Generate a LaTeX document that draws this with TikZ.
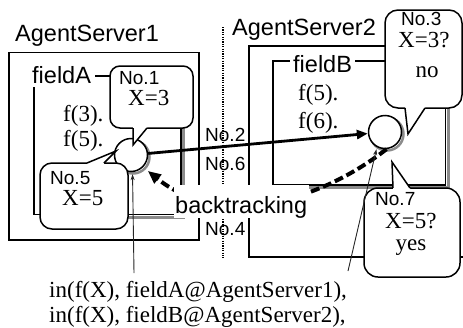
\documentclass[tikz,border=0pt]{standalone}
\usepackage{fontspec}
\setmainfont{Liberation Serif}
\setsansfont{Liberation Sans}
\usetikzlibrary{arrows.meta}
\tikzset{
  box/.style={line width=1.6pt},
  shadowline/.style={line width=3pt, black!45},
  bubble/.style={draw, fill=white, line width=1.5pt},
  tailline/.style={line width=1.5pt, line join=miter},
  agent/.style={circle, draw, fill=white, line width=1.5pt, minimum size=33pt, inner sep=0pt},
  sanslbl/.style={font=\sffamily\fontsize{23.5}{28}\selectfont, inner sep=0pt, anchor=base west},
  nolbl/.style={font=\sffamily\fontsize{19}{22}\selectfont, inner sep=0pt, anchor=base west},
  serlbl/.style={font=\fontsize{23}{27}\selectfont, inner sep=0pt, anchor=base west},
  divider/.style={line width=1.3pt, dash pattern=on 1.2pt off 1.2pt},
  mainarrow/.style={line width=2.8pt, -{Triangle[length=11pt,width=9pt]}},
  backarrow/.style={line width=4pt, dash pattern=on 9pt off 4pt, -{Triangle[length=13pt,width=11pt]}, shorten >=6pt},
  thinarrow/.style={line width=0.9pt, black!85, -{Stealth[length=6pt,width=4pt]}, shorten >=2pt},
}
\begin{document}
\begin{tikzpicture}[x=1pt,y=-1pt]
\useasboundingbox (0,0) rectangle (463,327);

% servers
\draw[box] (9,52.5) rectangle (199,240);
\draw[box] (463,46) -- (249,46) -- (249,257) -- (463,257);
\node[sanslbl] (as1) at (15,41) {AgentServer1};
\node[sanslbl] (as2) at (232,35) {AgentServer2};

% fields
\draw[shadowline] (183.5,80) -- (183.5,217.5) -- (128,217.5);
\draw[box] (34,76) rectangle (181,214.5);
\draw[shadowline] (448.5,65) -- (448.5,187.5) -- (300,187.5);
\draw[box] (273,61) rectangle (445.5,185);

\node[serlbl] (fa1) at (63,121) {f(3).};
\node[serlbl] (fa2) at (63,146) {f(5).};
\node[serlbl] (fb1) at (298,100) {f(5).};
\node[serlbl] (fb2) at (298,128) {f(6).};

% message numbers and divider
\node[nolbl] (n2) at (205,141) {No.2};
\node[nolbl] (n6) at (205,170) {No.6};
\node[nolbl] (n4) at (205,235) {No.4};
\draw[divider] (223,27) -- (223,258);

% agents
\draw[shadowline, line width=2.5pt] (133,157) circle[radius=16.5pt];
\draw[shadowline, line width=2.5pt] (387,134) circle[radius=16.5pt];
\node[agent] (agA) at (131,155) {};
\node[agent] (agB) at (385,132) {};

% arrows between agents
\draw[mainarrow] (agA) -- (agB);
\draw[backarrow] (agB.-85) .. controls (312,207) and (216,226) .. (agA.-45);
\node[sanslbl, fill=white, inner xsep=1.5pt, inner ysep=2pt, text height=26pt, text depth=3pt] (bt) at (173.5,213) {backtracking};

% bubble No.1
\draw[bubble, rounded corners=10pt] (110,66) rectangle (193,128);
\fill[white] (133,125.5) -- (133,145) -- (147,128) -- (147,125.5) -- cycle;
\draw[tailline] (133,128) -- (133,145) -- (147,128);
\node[nolbl] (b1n) at (119,84) {No.1};
\node[serlbl] (b1x) at (128,105) {X=3};

% bubble No.5
\draw[bubble, rounded corners=12pt] (40,163) rectangle (128,229);
\fill[white] (87,165.5) -- (87,163) -- (116,151) -- (104,163) -- (104,165.5) -- cycle;
\draw[tailline] (87,163) -- (116,151) -- (104,163);
\node[nolbl] (b5n) at (50,184) {No.5};
\node[serlbl] (b5x) at (62,205) {X=5};

% bubble No.3
\draw[bubble, rounded corners=13pt] (385,10) rectangle (462,108);
\fill[white] (405,105.5) -- (405,108) -- (408,134) -- (425,108) -- (425,105.5) -- cycle;
\draw[tailline] (405,108) -- (408,134) -- (425,108);
\node[nolbl] (b3n) at (401,25) {No.3};
\node[serlbl] (b3x) at (398,47) {X=3?};
\node[serlbl, anchor=base] (b3a) at (427,77) {no};

% bubble No.7
\draw[bubble, rounded corners=14pt] (364,188) rectangle (460,277);
\fill[white] (393,190.5) -- (393,188) -- (392,162) -- (410,188) -- (410,190.5) -- cycle;
\draw[tailline] (393,188) -- (392,162) -- (410,188);
\node[nolbl] (b7n) at (375,205) {No.7};
\node[serlbl] (b7x) at (385,228) {X=5?};
\node[serlbl, anchor=base] (b7a) at (411,250) {yes};

% field labels
\node[sanslbl, fill=white, inner sep=4pt] (fA) at (28,83) {fieldA};
\node[sanslbl, fill=white, inner xsep=3.5pt, inner ysep=1pt] (fB) at (289.5,72) {fieldB};

% code
\node[serlbl] (code1) at (49,297) {in(f(X), fieldA@AgentServer1),};
\node[serlbl] (code2) at (49,322) {in(f(X), fieldB@AgentServer2),};
\coordinate (s1) at (134,273);
\coordinate (s2) at (348,271);
\draw[thinarrow] (s1) -- (agA.-85);
\draw[thinarrow] (s2) -- (agB.-118);
\end{tikzpicture}
\end{document}
